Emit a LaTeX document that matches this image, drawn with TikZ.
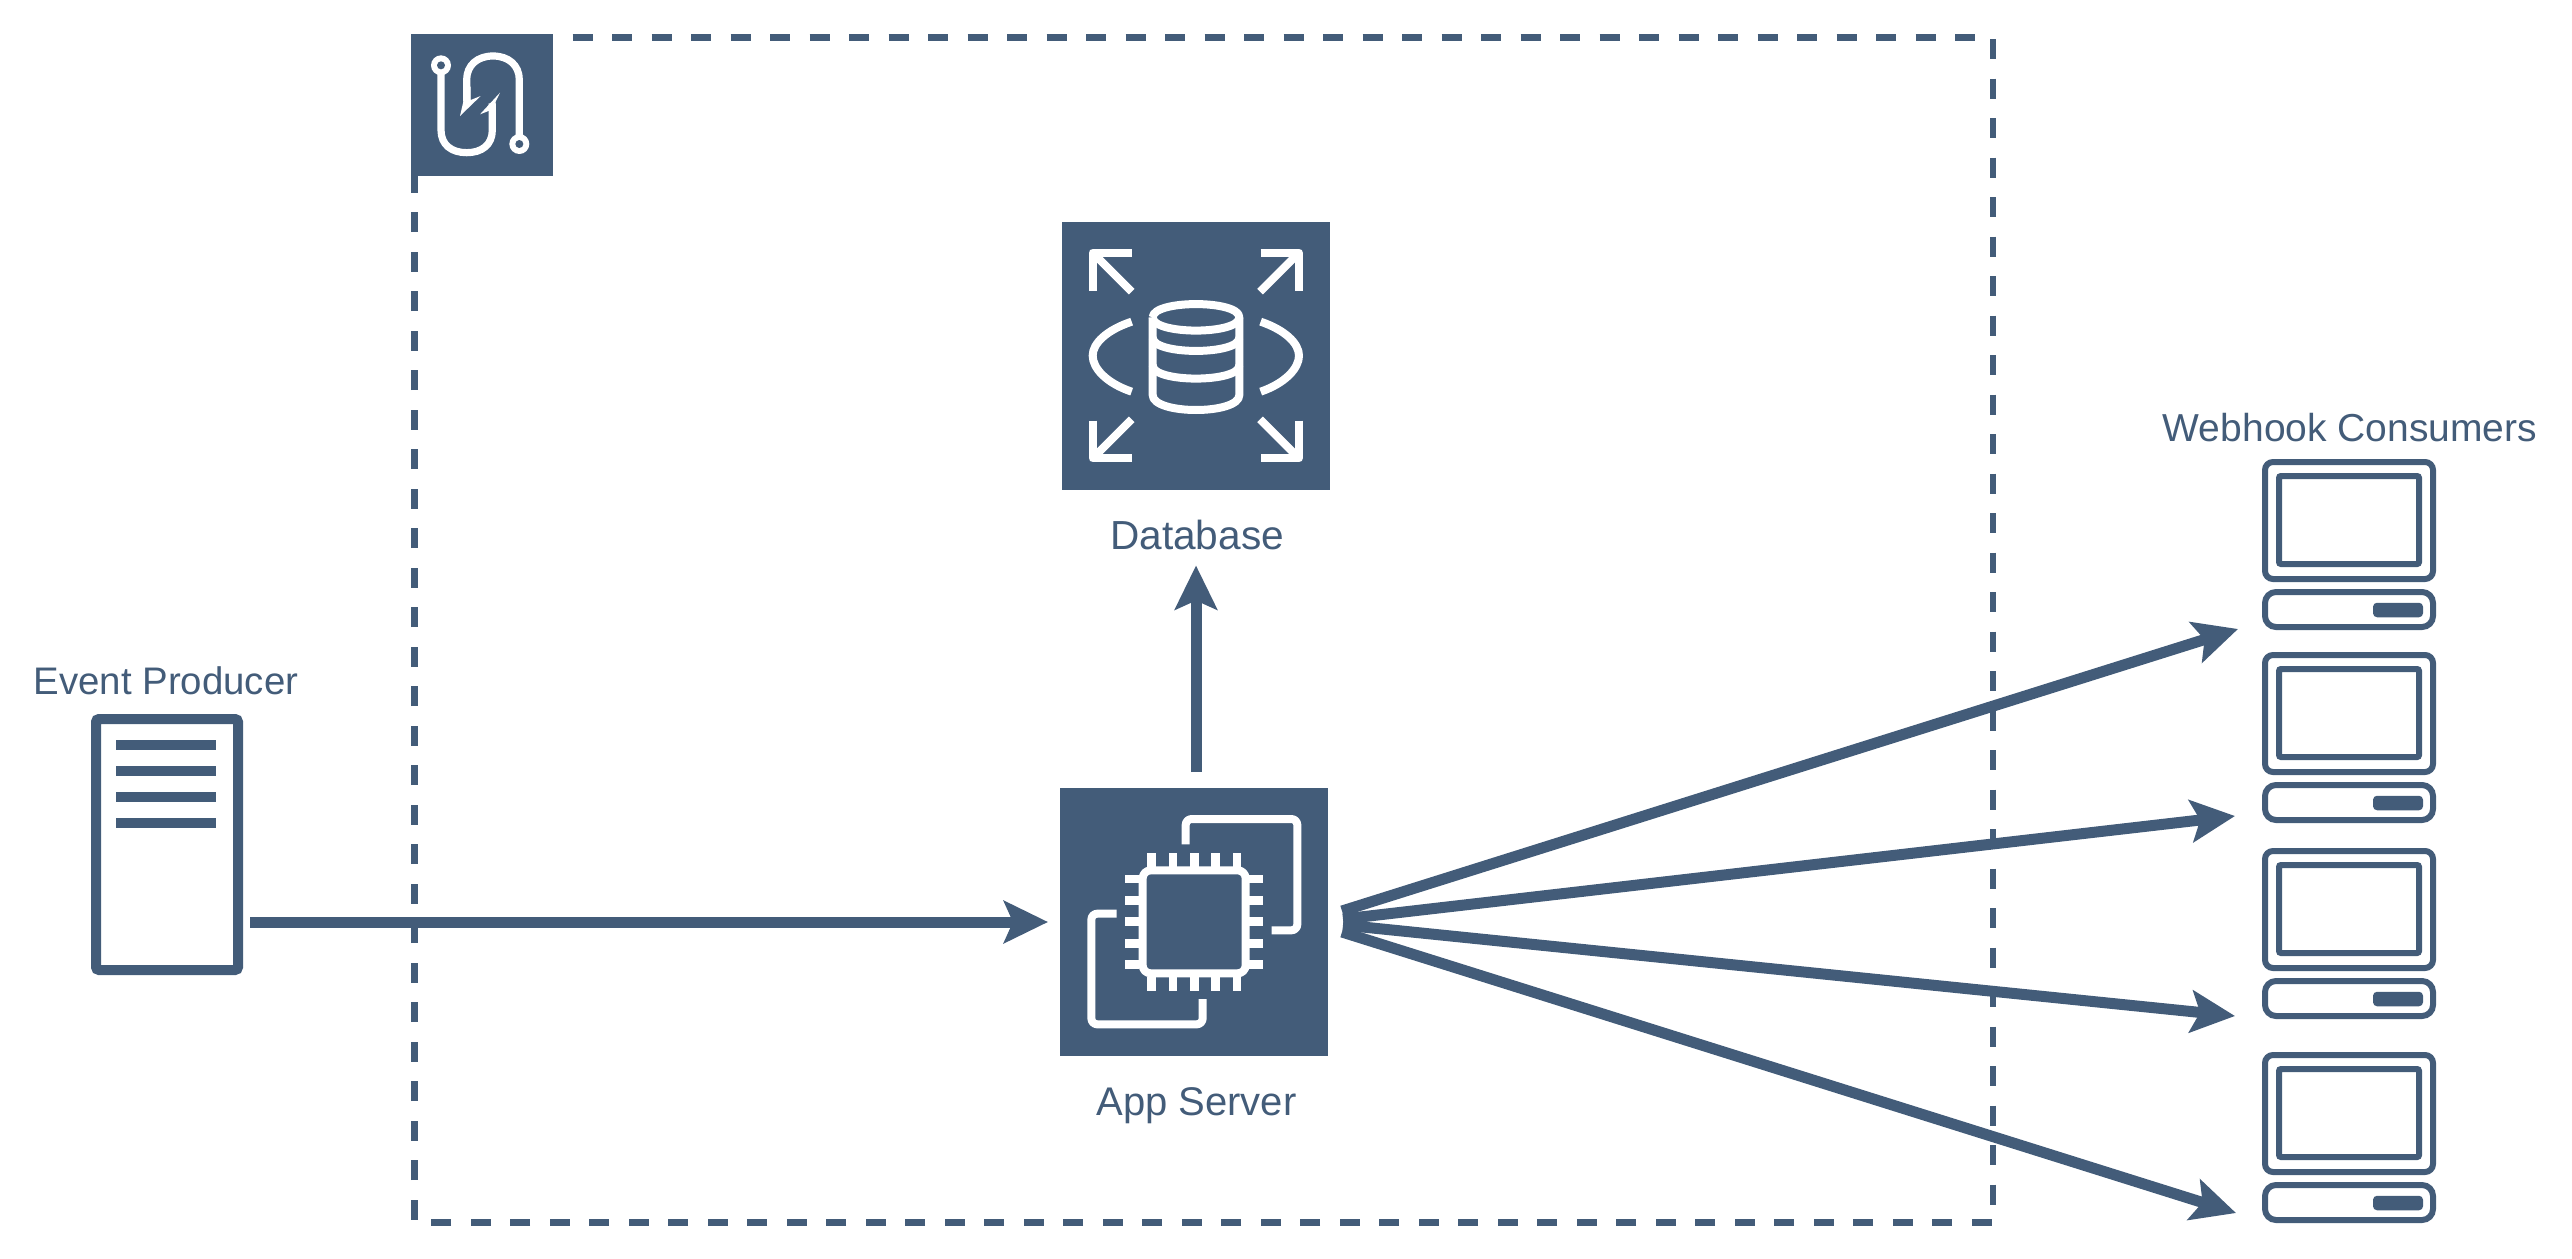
\documentclass[tikz,border=0pt]{standalone}
\usepackage{fontspec}
\setmainfont{Liberation Sans}
\usetikzlibrary{arrows.meta,calc}
\definecolor{slate}{HTML}{435C79}
\newcommand{\consumer}[2]{%
  \node[screenbox, minimum width=168pt, minimum height=117pt, line width=6pt, rounded corners=8pt] (cons#1) at (2349,#2+61.5) {};
  \node[screenbox, minimum width=140pt, minimum height=88pt, line width=6pt, rounded corners=2pt] (scr#1) at (2349,#2+61) {};
  \node[screenbox, minimum width=168pt, minimum height=35pt, line width=6pt, rounded corners=11pt] (base#1) at (2349,#2+150.5) {};
  \node[screenbox, fill=slate, draw=none, minimum width=50pt, minimum height=14.5pt, rounded corners=4pt] (btn#1) at (2398,#2+151) {};
}
\tikzset{
  screenbox/.style={draw=slate, inner sep=0pt, outer sep=0pt},
  iconbox/.style={fill=slate, inner sep=0pt, outer sep=0pt, minimum width=268pt, minimum height=268pt},
  conn/.style={draw=slate, line width=11pt, -{Stealth[length=44pt,width=42pt,inset=9pt]}},
  lab/.style={text=slate, anchor=base, inner sep=0pt},
  big/.style={font=\fontsize{40.6pt}{44pt}\selectfont},
  mid/.style={font=\fontsize{39pt}{42pt}\selectfont},
  glyph/.style={draw=white, line width=8pt, fill=none, line join=round},
}
\begin{document}
\begin{tikzpicture}[x=1pt,y=-1pt]
\useasboundingbox (0,0) rectangle (2572,1258);
% boundary
\draw[slate, line width=6.5pt, dash pattern=on 20pt off 19.5pt]
  (414.5,37.7) -- (1993,37.7) -- (1993,1222.7) -- (414.5,1222.7) -- cycle;
% hook icon
\node[iconbox, minimum width=142pt, minimum height=142pt] (hook) at (482,105) {};
\begin{scope}[shift={(400,20)},x=0.33333pt,y=-0.33333pt]
  \draw[glyph, line width=7.2pt] (123,160) -- (123,330) .. controls (123,375) and (155,398) .. (200,398)
     .. controls (245,398) and (277,375) .. (277,330) -- (277,250);
  \draw[glyph, line width=7.2pt] (358,345) -- (358,180) .. controls (358,135) and (325,108) .. (279,108)
     .. controls (233,108) and (200,135) .. (200,180) -- (200,245);
  \fill[white] (300,218) -- (240,283) -- (268,272) -- (268,300) -- (287,300) -- (287,245) -- cycle;
  \fill[white] (180,288) -- (242,228) -- (212,240) -- (212,200) -- (190,200) -- (190,245) -- cycle;
  \fill[white] (123,136) circle (30);
  \fill[slate] (123,136) circle (12);
  \fill[white] (358,372) circle (30);
  \fill[slate] (358,372) circle (12);
\end{scope}
% database icon
\node[iconbox] (db) at (1196,355.5) {};
\begin{scope}[shift={(1050,210)},x=0.33333pt,y=-0.33333pt]
  \draw[glyph] (245,128) -- (128,128) -- (128,243);
  \draw[glyph] (128,128) -- (245,245);
  \draw[glyph] (632,128) -- (747,128) -- (747,243);
  \draw[glyph] (747,128) -- (630,245);
  \draw[glyph] (128,632) -- (128,745) -- (245,745);
  \draw[glyph] (128,745) -- (245,628);
  \draw[glyph] (747,632) -- (747,745) -- (632,745);
  \draw[glyph] (747,745) -- (630,628);
  \draw[glyph] (245,335) .. controls (170,360) and (128,400) .. (128,437) .. controls (128,475) and (170,520) .. (245,545);
  \draw[glyph] (632,335) .. controls (705,360) and (747,400) .. (747,437) .. controls (747,475) and (705,520) .. (632,545);
  \draw[glyph] (308,322) .. controls (308,269) and (568,269) .. (568,322)
               .. controls (568,375) and (308,375) .. (308,322);
  \draw[glyph] (308,322) -- (308,555)
               .. controls (308,615) and (568,615) .. (568,555) -- (568,322);
  \draw[glyph] (308,383) .. controls (308,436) and (568,436) .. (568,383);
  \draw[glyph] (308,466) .. controls (308,519) and (568,519) .. (568,466);
\end{scope}
% app server icon
\node[iconbox] (app) at (1194,922) {};
\begin{scope}[shift={(1050,780)},x=0.33333pt,y=-0.33333pt]
  \draw[glyph, rounded corners=8pt] (278,271) rectangle (587,580);
  \foreach \p in {305,369,433,497,561} {
    \draw[glyph, line width=8.5pt] (\p,220) -- (\p,262);
    \draw[glyph, line width=8.5pt] (\p,590) -- (\p,632);
  }
  \foreach \p in {297,361,425,490,554} {
    \draw[glyph, line width=8.5pt] (226,\p) -- (268,\p);
    \draw[glyph, line width=8.5pt] (597,\p) -- (638,\p);
  }
  \draw[glyph, rounded corners=6pt] (407,193) -- (407,117) -- (742,117) -- (742,451) -- (665,451);
  \draw[glyph, rounded corners=6pt] (200,401) -- (124,401) -- (124,733) -- (458,733) -- (458,657);
\end{scope}
% event producer
\node[screenbox, line width=10pt, rounded corners=3pt, minimum width=142pt, minimum height=251pt] (producer) at (167,844.5) {};
\foreach \b in {745,771,797,823} { \fill[slate] (116,\b-5) rectangle (216,\b+5); }
% consumers
\consumer{1}{459}
\consumer{2}{652}
\consumer{3}{848}
\consumer{4}{1052}
% labels
\node[lab,font=\fontsize{38.4pt}{42pt}\selectfont] (lproducer) at (166,694) {Event Producer};
\node[lab,big] (ldb) at (1197,549) {Database};
\node[lab,font=\fontsize{40pt}{44pt}\selectfont] (lapp) at (1196.5,1115) {App Server};
\node[lab,mid] (lcons) at (2350,441) {Webhook Consumers};
% connector end points
\coordinate (s1) at (1342,911);
\coordinate (s2) at (1343,919);
\coordinate (s3) at (1343,925);
\coordinate (s4) at (1342,932);
\coordinate (t1) at (2238,629);
\coordinate (t2) at (2235,816);
\coordinate (t3) at (2235,1016);
\coordinate (t4) at (2236,1213);
% connectors
\draw[conn, shorten <=12pt, shorten >=12pt] (producer.east |- app.west) -- (app.west);
\draw[conn, shorten <=16pt, shorten >=76pt] (app.north -| db.south) -- (db.south);
\draw[conn] (s1) -- (t1);
\draw[conn] (s2) -- (t2);
\draw[conn] (s3) -- (t3);
\draw[conn] (s4) -- (t4);
\end{tikzpicture}
\end{document}
